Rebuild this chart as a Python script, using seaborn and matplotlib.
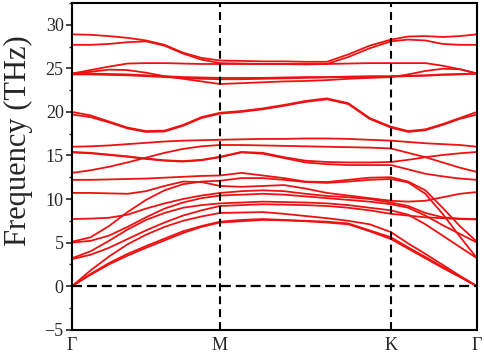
import matplotlib
matplotlib.use("Agg")
import numpy as np
import pandas as pd
import matplotlib.pyplot as plt
import seaborn as sns
from matplotlib.ticker import MultipleLocator

# ---- data -------------------------------------------------------------
# k-path positions (Γ - M - K - Γ)
kpath = [0.0, 0.185, 0.37, 0.555, 0.74, 0.925, 1.11, 1.295, 1.48,
         1.694, 1.908, 2.121, 2.335, 2.549, 2.763, 2.976, 3.19,
         3.362, 3.534, 3.706, 3.878, 4.05]
tick_pos = [0.0, 1.48, 3.19, 4.05]
tick_labels = ["Γ", "M", "K", "Γ"]

band_A  = [28.9, 28.85, 28.7, 28.5, 28.2, 27.7, 26.8, 26.2, 25.9, 25.85, 25.8, 25.8, 25.75, 25.75, 26.6, 27.6, 28.3, 28.65, 28.7, 28.6, 28.7, 28.9]
band_B  = [27.7, 27.7, 27.8, 28.0, 28.1, 27.6, 26.7, 26.0, 25.6, 25.55, 25.5, 25.5, 25.45, 25.5, 26.3, 27.3, 28.1, 28.3, 28.2, 27.8, 27.7, 27.7]
band_C  = [24.4, 24.8, 25.2, 25.55, 25.6, 25.6, 25.55, 25.5, 25.5, 25.5, 25.5, 25.5, 25.5, 25.5, 25.55, 25.6, 25.6, 25.6, 25.6, 25.3, 24.9, 24.4]
band_D  = [24.4, 24.6, 24.85, 24.8, 24.5, 24.1, 23.8, 23.5, 23.2, 23.3, 23.4, 23.5, 23.55, 23.65, 23.8, 23.9, 24.0, 24.3, 24.7, 24.95, 24.9, 24.4]
band_E  = [24.4, 24.4, 24.35, 24.3, 24.2, 24.1, 24.0, 23.95, 23.9, 23.9, 23.9, 23.95, 24.0, 24.0, 24.05, 24.1, 24.1, 24.15, 24.2, 24.3, 24.35, 24.4]
band_F  = [24.3, 24.3, 24.25, 24.2, 24.1, 24.0, 23.9, 23.8, 23.75, 23.75, 23.8, 23.85, 23.9, 23.95, 24.0, 24.0, 24.05, 24.1, 24.15, 24.25, 24.3, 24.4]
band_G  = [20.0, 19.6, 18.9, 18.2, 17.8, 17.85, 18.5, 19.4, 19.9, 20.1, 20.4, 20.8, 21.25, 21.55, 21.0, 19.3, 18.3, 17.8, 18.0, 18.6, 19.3, 20.0]
band_H  = [19.7, 19.4, 18.8, 18.1, 17.7, 17.75, 18.4, 19.3, 19.8, 20.0, 20.3, 20.7, 21.15, 21.45, 20.9, 19.2, 18.2, 17.7, 17.9, 18.5, 19.2, 19.7]
band_I  = [16.0, 16.05, 16.15, 16.3, 16.45, 16.6, 16.7, 16.75, 16.8, 16.85, 16.9, 16.9, 16.95, 16.95, 16.9, 16.8, 16.7, 16.55, 16.4, 16.3, 16.2, 16.0]
band_Kb = [13.0, 13.3, 13.7, 14.2, 14.75, 15.3, 15.75, 16.05, 16.2, 16.2, 16.15, 16.1, 16.05, 16.0, 15.95, 15.9, 15.8, 15.3, 14.8, 14.2, 13.6, 13.1]
band_J  = [15.4, 15.3, 15.1, 14.9, 14.65, 14.45, 14.35, 14.5, 14.85, 15.4, 15.3, 14.8, 14.4, 14.25, 14.2, 14.2, 14.25, 14.5, 14.8, 15.05, 15.25, 15.4]
band_J2 = [15.35, 15.25, 15.05, 14.85, 14.6, 14.4, 14.3, 14.45, 14.8, 15.35, 15.2, 14.7, 14.2, 14.0, 13.9, 13.9, 13.9, 13.4, 12.9, 12.6, 12.35, 12.2]
band_O7 = [12.2, 12.2, 12.25, 12.3, 12.35, 12.45, 12.55, 12.65, 12.7, 13.0, 12.7, 12.4, 12.0, 11.95, 12.2, 12.45, 12.5, 12.0, 11.0, 9.0, 6.9, 5.1]
band_O4 = [5.1, 5.6, 6.9, 8.5, 9.9, 11.0, 11.7, 12.0, 12.1, 12.4, 12.4, 12.2, 11.95, 11.85, 12.0, 12.2, 12.3, 11.9, 10.6, 8.3, 5.7, 3.2]
band_O6 = [10.7, 10.7, 10.65, 10.6, 10.9, 11.5, 12.0, 11.95, 11.5, 11.4, 11.5, 11.6, 11.2, 10.7, 10.4, 10.1, 9.8, 9.7, 9.8, 10.2, 10.6, 10.8]
band_O5 = [7.7, 7.75, 7.85, 8.2, 8.9, 9.5, 10.0, 10.4, 10.7, 10.9, 11.0, 10.9, 10.6, 10.35, 10.2, 10.0, 9.6, 9.2, 8.4, 7.9, 7.75, 7.7]
band_O3 = [5.0, 5.2, 5.8, 6.8, 7.9, 8.9, 9.6, 10.1, 10.4, 10.5, 10.6, 10.5, 10.3, 10.1, 9.9, 9.7, 9.4, 9.0, 8.1, 7.0, 6.0, 5.0]
band_O2 = [3.2, 4.0, 5.2, 6.5, 7.6, 8.4, 9.0, 9.3, 9.5, 9.6, 9.7, 9.65, 9.6, 9.5, 9.3, 9.0, 8.7, 8.2, 7.1, 5.8, 4.5, 3.2]
band_O1 = [3.1, 3.6, 4.4, 5.4, 6.4, 7.3, 8.1, 8.7, 9.2, 9.3, 9.4, 9.35, 9.3, 9.2, 9.0, 8.7, 8.3, 8.1, 7.9, 7.8, 7.7, 7.65]
band_A3 = [0.0, 1.8, 3.4, 4.8, 5.9, 6.8, 7.5, 8.0, 8.4, 8.45, 8.5, 8.3, 8.05, 7.8, 7.5, 7.1, 6.2, 4.9, 3.7, 2.45, 1.2, 0.0]
band_A2 = [0.0, 1.4, 2.65, 3.7, 4.6, 5.45, 6.3, 6.9, 7.4, 7.6, 7.7, 7.6, 7.5, 7.4, 7.2, 6.4, 5.6, 4.45, 3.35, 2.2, 1.1, 0.0]
band_A1 = [0.0, 1.3, 2.5, 3.5, 4.4, 5.25, 6.1, 6.8, 7.3, 7.45, 7.6, 7.55, 7.45, 7.3, 7.1, 6.3, 5.4, 4.3, 3.2, 2.1, 1.05, 0.0]

bands = {
    "A": band_A, "B": band_B, "C": band_C, "D": band_D, "E": band_E,
    "F": band_F, "G": band_G, "H": band_H, "I": band_I, "Kb": band_Kb,
    "J": band_J, "J2": band_J2, "O7": band_O7, "O4": band_O4, "O6": band_O6,
    "O5": band_O5, "O3": band_O3, "O2": band_O2, "O1": band_O1,
    "A3": band_A3, "A2": band_A2, "A1": band_A1,
}

rows = []
for name, vals in bands.items():
    for k, f in zip(kpath, vals):
        rows.append({"k": k, "freq": f, "band": name})
df = pd.DataFrame(rows)

# ---- plot -------------------------------------------------------------
sns.set_theme(style="ticks")
plt.rcParams["font.family"] = ["Liberation Serif", "DejaVu Serif"]

fig, ax = plt.subplots(figsize=(4.84, 3.56), dpi=100)
fig.subplots_adjust(left=72 / 484, right=477 / 484, top=1 - 3 / 356, bottom=1 - 329.7 / 356)

sns.lineplot(data=df, x="k", y="freq", units="band", estimator=None, sort=False,
             color="#ee1111", linewidth=1.3, legend=False, ax=ax)

for xv in tick_pos[1:3]:
    ax.axvline(xv, color="black", linewidth=1.5, linestyle=(0, (3.8, 2.4)), zorder=3)
ax.axhline(0, color="black", linewidth=1.6, linestyle=(0, (4.5, 2.2)), zorder=3)

ax.set_xlim(kpath[0], kpath[-1])
ax.set_ylim(-5, 32.5)
ax.set_xticks(tick_pos)
ax.set_xticklabels(tick_labels)
ax.yaxis.set_major_locator(MultipleLocator(5))
ax.yaxis.set_minor_locator(MultipleLocator(2.5))
ax.tick_params(axis="x", length=0, pad=5, labelsize=13)
ax.tick_params(axis="y", which="major", length=4, width=1.2, direction="out", labelsize=13, pad=2)
ax.tick_params(axis="y", which="minor", length=2.5, width=1.0, direction="out")
ax.set_xlabel("")
ax.set_ylabel("Frequency (THz)", fontsize=22)
ax.yaxis.set_label_coords(-0.096, 0.58)
for s in ax.spines.values():
    s.set_linewidth(1.5)
    s.set_color("black")

fig.savefig("out.png", dpi=100)
